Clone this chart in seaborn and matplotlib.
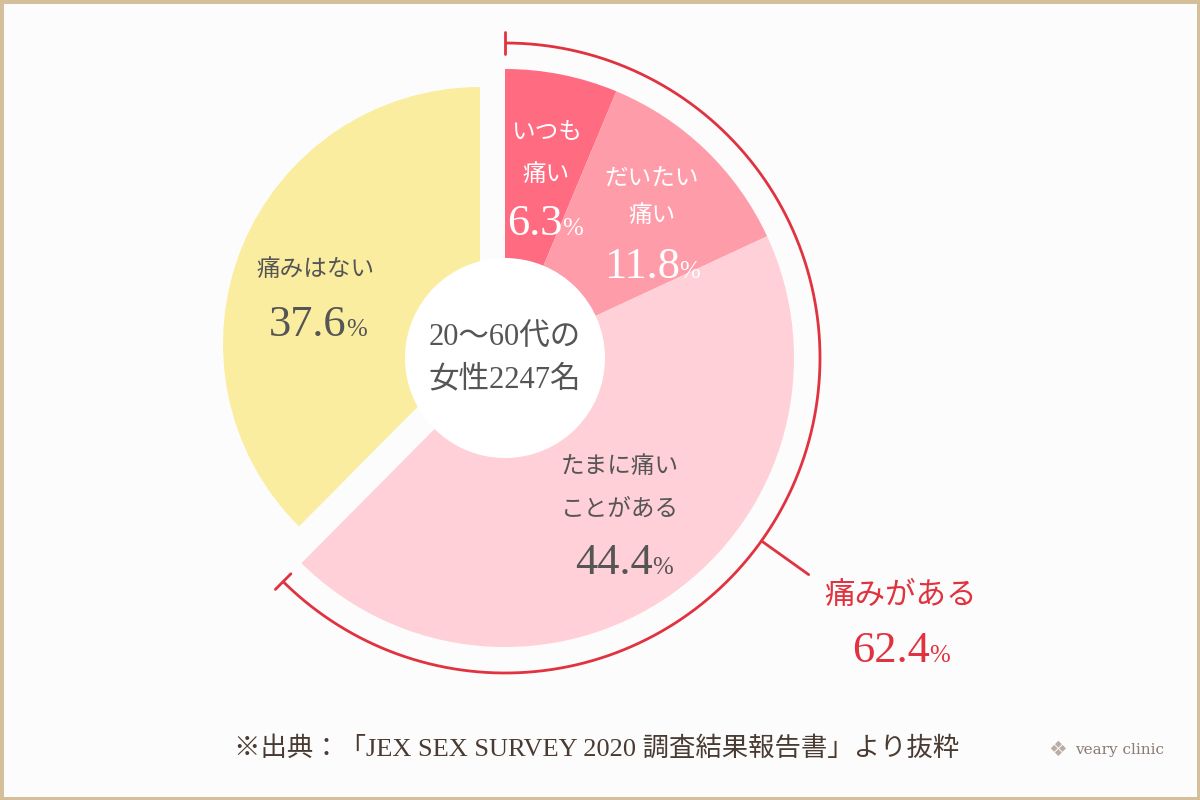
import numpy as np
import matplotlib
matplotlib.use("Agg")
import matplotlib.pyplot as plt
from matplotlib.patches import Circle, Rectangle
import seaborn as sns

# -------------------------
# Data
# -------------------------
categories = ["いつも痛い", "だいたい痛い", "たまに痛いことがある", "痛みはない"]
label_lines = [["いつも", "痛い"], ["だいたい", "痛い"], ["たまに痛い", "ことがある"], ["痛みはない"]]
shares = [6.3, 11.8, 44.4, 37.6]
pain_label = "痛みがある"
pain_total = 62.4
center_lines = ["20〜60代の", "女性2247名"]
source_text = "※出典：「JEX SEX SURVEY 2020 調査結果報告書」より抜粋"
brand_text = "veary clinic"

# -------------------------
# Style
# -------------------------
sns.set_theme(style="white")
FONT = ["Liberation Serif", "Noto Sans CJK JP", "DejaVu Sans"]
plt.rcParams["font.family"] = FONT

slice_colors = sns.color_palette(["#FF6B80", "#FF9CA9", "#FFD0D8", "#FBED9F"])
RED = "#E0323F"
GREY = "#555555"
BG = "#FDFCFC"

W, H = 1200, 800
fig = plt.figure(figsize=(12, 8), dpi=100, facecolor=BG)
ax = fig.add_axes([0, 0, 1, 1])
ax.set_facecolor(BG)


def Y(y):
    # screen pixel row -> data y
    return H - y


# pink part of the donut
cx, cy, r_pink = 505, Y(358), 289
ax.pie(shares, colors=list(slice_colors[:3]) + ["none"], startangle=90, counterclock=False,
       center=(cx, cy), radius=r_pink, wedgeprops=dict(linewidth=0))
# yellow part, pulled out to the upper left and a bit smaller
ax.pie(shares, colors=["none"] * 3 + [slice_colors[3]], startangle=90, counterclock=False,
       center=(480, Y(344)), radius=257, wedgeprops=dict(linewidth=0))

ax.add_patch(Circle((cx, cy), 100, facecolor="white", edgecolor="none", zorder=3))

# bracket around the "pain" slices
pain_frac = sum(shares[:3]) / sum(shares)
R = 315
theta = np.linspace(0, 2 * np.pi * pain_frac, 300)
ax.plot(cx + R * np.sin(theta), cy + R * np.cos(theta), color=RED, lw=2.0, zorder=4,
        solid_capstyle="butt")
for t in [theta[0], theta[-1]]:
    ax.plot([cx + (R - 11) * np.sin(t), cx + (R + 11) * np.sin(t)],
            [cy + (R - 11) * np.cos(t), cy + (R + 11) * np.cos(t)], color=RED, lw=2.0, zorder=4)
lead = np.deg2rad(125.5)
ax.plot([cx + R * np.sin(lead), cx + (R + 58) * np.sin(lead)],
        [cy + R * np.cos(lead), cy + (R + 58) * np.cos(lead)], color=RED, lw=2.0, zorder=4)

ax.set_xlim(0, W)
ax.set_ylim(0, H)
ax.set_aspect("equal")
ax.axis("off")

renderer = fig.canvas.get_renderer()


def pct_text(x, y, value, color, size=32):
    # number + smaller % sign, centred as one group on x, baseline at y
    t1 = ax.text(x, Y(y), f"{value:.1f}", fontsize=size, color=color, ha="right",
                 va="baseline", zorder=5)
    t2 = ax.text(x, Y(y), "%", fontsize=size * 0.56, color=color, ha="left",
                 va="baseline", zorder=5)
    w1 = t1.get_window_extent(renderer).width
    w2 = t2.get_window_extent(renderer).width
    left = x - (w1 + w2) / 2
    t1.set_x(left + w1)
    t2.set_x(left + w1)


def lines_text(x, ys, lines, color, size):
    for yy, line in zip(ys, lines):
        ax.text(x, Y(yy), line, fontsize=size, color=color, ha="center", va="center", zorder=5)


# slice labels
label_pos = [(546, [133, 175], 545, 235), (652, [180, 216], 652, 278),
             (620, [467, 510], 624, 574), (316, [270], 318, 336)]
label_colors = ["white", "white", GREY, GREY]
for lines, share, (lx, lys, px, py), col in zip(label_lines, shares, label_pos, label_colors):
    lines_text(lx, lys, lines, col, 17)
    pct_text(px, py, share, col)

# centre text
lines_text(505, [338, 380], center_lines, GREY, 22)

# total pain label
lines_text(901, [597], [pain_label], RED, 22)
pct_text(901, 662, pain_total, RED)

# source + brand
ax.text(597, Y(748), source_text, fontsize=19, color="#4A3B32", ha="center", va="center")
ax.text(1058, Y(750), "❖", fontsize=15, color="#B9ADA5", ha="center", va="center",
        family=["DejaVu Sans"])
ax.text(1120, Y(750), brand_text, fontsize=11, color="#8A7C74", ha="center", va="center",
        family=["DejaVu Serif"])

# frame
fig.patches.append(Rectangle((0, 0), 1, 1, transform=fig.transFigure, fill=False,
                             edgecolor="#D3C09A", linewidth=5))

fig.savefig("out.png", dpi=100, facecolor=BG)
